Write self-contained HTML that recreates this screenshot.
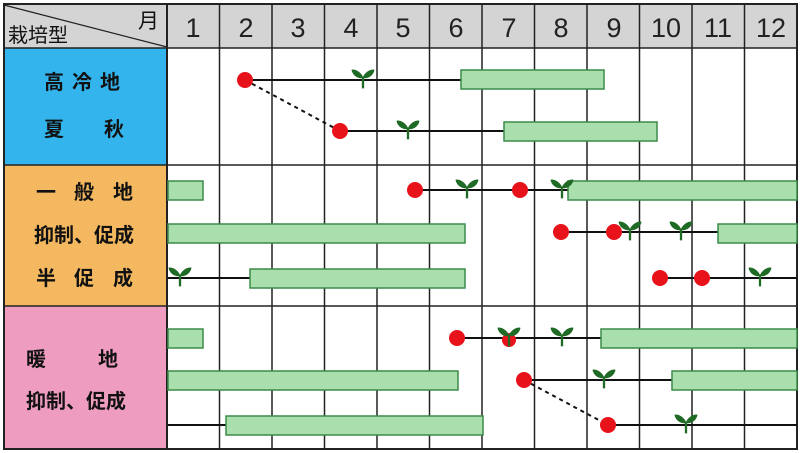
<!DOCTYPE html>
<html><head><meta charset="utf-8"><style>
html,body{margin:0;padding:0;background:#fff;width:800px;height:453px;overflow:hidden}
text{font-family:"Liberation Sans","Noto Sans CJK JP",sans-serif}
</style></head><body>
<svg width="800" height="453" viewBox="0 0 800 453" xmlns="http://www.w3.org/2000/svg">
<defs>
<g id="sd" transform="scale(1.15)"><path d="M0,-1 C-3,-7 -9,-8 -10,-7 C-9,-2 -4,1 0,0 Z" fill="#1f6a25"/><path d="M0,-1 C3,-7 9,-8 10,-7 C9,-2 4,1 0,0 Z" fill="#1f6a25"/><rect x="-1" y="-1" width="2" height="10" fill="#1f6a25"/></g>
</defs>
<rect x="4" y="4" width="793" height="44" fill="#d4d4d4"/>
<rect x="4" y="48" width="163" height="117" fill="#33b4ec"/>
<rect x="4" y="165" width="163" height="141" fill="#f4b860"/>
<rect x="4" y="306" width="163" height="143" fill="#ee9cc0"/>
<line x1="4" y1="5" x2="167" y2="47" stroke="#222" stroke-width="1.2"/>
<text x="138" y="28" font-size="21" fill="#111">月</text>
<text x="8" y="42" font-size="20" fill="#111">栽培型</text>
<g font-size="27" fill="#222" text-anchor="middle">
<text x="193" y="37">1</text><text x="246" y="37">2</text><text x="298" y="37">3</text><text x="351" y="37">4</text><text x="403" y="37">5</text><text x="456" y="37">6</text><text x="509" y="37">7</text><text x="561" y="37">8</text><text x="614" y="37">9</text><text x="666" y="37">10</text><text x="718" y="37">11</text><text x="771" y="37">12</text>
</g>
<g font-size="20" fill="#111" font-weight="bold">
<text x="44" y="89" letter-spacing="8">高冷地</text>
<text x="44" y="136">夏</text><text x="104" y="136">秋</text>
<text x="36" y="199">一</text><text x="74" y="199">般</text><text x="113" y="199">地</text>
<text x="34" y="242">抑制、促成</text>
<text x="36" y="285">半</text><text x="74" y="285">促</text><text x="113" y="285">成</text>
<text x="26" y="366">暖</text><text x="98" y="366">地</text>
<text x="26" y="408">抑制、促成</text>
</g>
<g stroke="#222" stroke-width="1.5">
<line x1="219.5" y1="4" x2="219.5" y2="449"/><line x1="272" y1="4" x2="272" y2="449"/><line x1="324.5" y1="4" x2="324.5" y2="449"/><line x1="377" y1="4" x2="377" y2="449"/><line x1="429.5" y1="4" x2="429.5" y2="449"/><line x1="482" y1="4" x2="482" y2="449"/><line x1="534.5" y1="4" x2="534.5" y2="449"/><line x1="587" y1="4" x2="587" y2="449"/><line x1="639.5" y1="4" x2="639.5" y2="449"/><line x1="692" y1="4" x2="692" y2="449"/><line x1="744.5" y1="4" x2="744.5" y2="449"/>
<line x1="4" y1="48" x2="797" y2="48"/><line x1="4" y1="165" x2="797" y2="165"/><line x1="4" y1="306" x2="797" y2="306"/>
</g>
<rect x="4" y="4" width="793" height="445" fill="none" stroke="#222" stroke-width="2"/>
<line x1="167" y1="4" x2="167" y2="449" stroke="#222" stroke-width="2"/>
<g stroke="#111" stroke-width="2">
<line x1="245" y1="80" x2="461" y2="80"/><line x1="340" y1="131" x2="504" y2="131"/>
<line x1="415" y1="190" x2="568" y2="190"/>
<line x1="561" y1="232" x2="718" y2="232"/>
<line x1="168" y1="278" x2="250" y2="278"/><line x1="660" y1="278" x2="797" y2="278"/>
<line x1="457" y1="338" x2="601" y2="338"/>
<line x1="524" y1="380" x2="672" y2="380"/>
<line x1="168" y1="425" x2="226" y2="425"/><line x1="608" y1="425" x2="797" y2="425"/>
<line x1="245" y1="80" x2="340" y2="131" stroke-dasharray="4,4"/>
<line x1="524" y1="380" x2="608" y2="425" stroke-dasharray="4,4"/>
</g>
<g fill="#a8dfad" stroke="#3b8c48" stroke-width="1.5">
<rect x="461" y="70" width="143" height="19"/><rect x="504" y="122" width="153" height="19"/>
<rect x="168" y="181" width="35" height="19"/><rect x="568" y="181" width="229" height="19"/>
<rect x="168" y="224" width="297" height="19"/><rect x="718" y="224" width="79" height="19"/>
<rect x="250" y="269" width="215" height="19"/>
<rect x="168" y="329" width="35" height="19"/><rect x="601" y="329" width="196" height="19"/>
<rect x="168" y="371" width="290" height="19"/><rect x="672" y="371" width="125" height="19"/>
<rect x="226" y="416" width="257" height="19"/>
</g>
<g fill="#e8121b">
<circle cx="245" cy="80" r="8"/><circle cx="340" cy="131" r="8"/>
<circle cx="415" cy="190" r="8"/><circle cx="520" cy="190" r="8"/>
<circle cx="561" cy="232" r="8"/><circle cx="614" cy="232" r="8"/>
<circle cx="660" cy="278" r="8"/><circle cx="702" cy="278" r="8"/>
<circle cx="457" cy="338" r="8"/><circle cx="509" cy="340" r="7"/>
<circle cx="524" cy="380" r="8"/><circle cx="608" cy="425" r="8"/>
</g>
<use href="#sd" x="363" y="78"/><use href="#sd" x="408" y="129"/>
<use href="#sd" x="467" y="188"/><use href="#sd" x="562" y="188"/>
<use href="#sd" x="630" y="230"/><use href="#sd" x="681" y="230"/>
<use href="#sd" x="180" y="276"/><use href="#sd" x="760" y="276"/>
<use href="#sd" x="509" y="336"/><use href="#sd" x="562" y="336"/>
<use href="#sd" x="604" y="378"/><use href="#sd" x="686" y="423"/>
</svg>
</body></html>
